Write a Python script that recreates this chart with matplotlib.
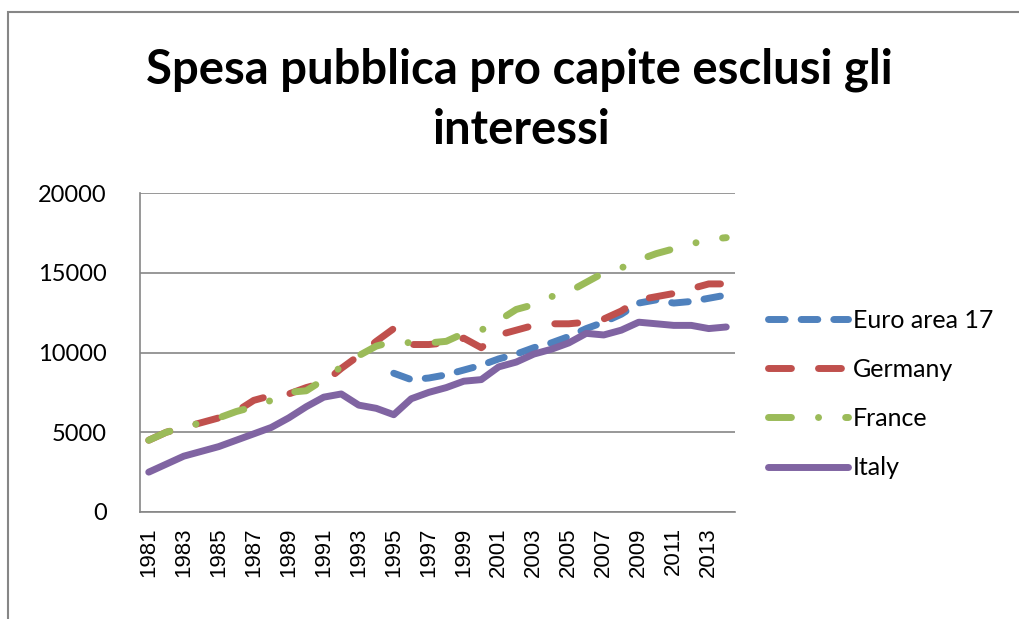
import numpy as np
import matplotlib
matplotlib.use('Agg')
import matplotlib.pyplot as plt
from matplotlib.patches import Rectangle

nan = np.nan

years = list(range(1981, 2015))

euro_area = [nan] * 14 + [
    8700, 8300, 8400, 8600, 8900, 9200, 9600, 9900, 10300, 10600,
    11000, 11500, 11900, 12400, 13100, 13300, 13100, 13200, 13400, 13600]

germany = [4500, 5000, 5300, 5600, 5900, 6300, 7000, 7300, 7400, 7800,
           8100, 9000, 9800, 10700, 11500, 10500, 10500, 10600, 10900, 10300,
           11100, 11400, 11700, 11800, 11800, 11900, 12100, 12600, 13300, 13500,
           13700, 14000, 14300, 14300]

france = [4500, 5000, 5300, 5600, 5900, 6300, 6600, 7000, 7500, 7600,
          8300, 9100, 9800, 10400, 10700, 10600, 10600, 10700, 11200, 11400,
          12000, 12700, 13000, 13500, 13800, 14400, 15000, 15300, 15800, 16200,
          16500, 16800, 17100, 17200]

italy = [2500, 3000, 3500, 3800, 4100, 4500, 4900, 5300, 5900, 6600,
         7200, 7400, 6700, 6500, 6100, 7100, 7500, 7800, 8200, 8300,
         9100, 9400, 9900, 10200, 10600, 11200, 11100, 11400, 11900, 11800,
         11700, 11700, 11500, 11600]

series = ["Euro area 17", "Germany", "France", "Italy"]
colors = ["#4F81BD", "#C0504D", "#9BBB59", "#8064A2"]

grey = "#868686"

fig = plt.figure(figsize=(10.19, 6.19), dpi=100)
ax = fig.add_axes([140 / 1019, 1 - 512 / 619, 595 / 1019, 319 / 619])

x = np.arange(len(years))
lw = 5
ax.plot(x, euro_area, color=colors[0], lw=lw, dashes=(2.4, 2.3),
        dash_capstyle='round', solid_capstyle='round', label=series[0])
ax.plot(x, germany, color=colors[1], lw=lw, dashes=(3.3, 3.9),
        dash_capstyle='round', solid_capstyle='round', label=series[1])
ax.plot(x, france, color=colors[2], lw=lw, dashes=(3.3, 3.9, 0.01, 3.9),
        dash_capstyle='round', solid_capstyle='round', label=series[2])
ax.plot(x, italy, color=colors[3], lw=lw, solid_capstyle='round',
        solid_joinstyle='round', label=series[3])

ax.set_xlim(-0.5, len(years) - 0.5)
ax.set_ylim(0, 20000)
ax.set_yticks([0, 5000, 10000, 15000, 20000])
ax.set_xticks(x[::2])
ax.set_xticklabels([str(y) for y in years[::2]], rotation=90,
                   fontfamily='Liberation Sans', fontsize=16)
for lab in ax.get_yticklabels():
    lab.set_fontfamily('Lato')
    lab.set_fontsize(17)

ax.tick_params(axis='x', length=0, pad=11)
ax.tick_params(axis='y', length=0, pad=24)
ax.grid(axis='y', color=grey, lw=1.2)
ax.set_axisbelow(True)
for s in ['top', 'right']:
    ax.spines[s].set_visible(False)
for s in ['left', 'bottom']:
    ax.spines[s].set_color(grey)
    ax.spines[s].set_linewidth(1.2)

fig.text(0.51, 1 - 70 / 619, "Spesa pubblica pro capite esclusi gli",
         ha='center', va='center', fontsize=34, fontweight='bold',
         fontfamily='Lato')
fig.text(0.512, 1 - 130 / 619, "interessi",
         ha='center', va='center', fontsize=34, fontweight='bold',
         fontfamily='Lato')

leg = ax.legend(loc='center left', bbox_to_anchor=(768 / 1019, 1 - 394 / 619),
                bbox_transform=fig.transFigure, frameon=False,
                prop={'family': 'Lato', 'size': 18}, handlelength=3.2,
                handletextpad=0.2, labelspacing=1.05, borderpad=0,
                borderaxespad=0)

# outer chart border
fig.patches.append(Rectangle((8 / 1019, -0.1), 1.2, 1 - 12 / 619 + 0.1,
                             transform=fig.transFigure, fill=False,
                             edgecolor=grey, lw=1.5))

fig.savefig("out.png", dpi=100)
